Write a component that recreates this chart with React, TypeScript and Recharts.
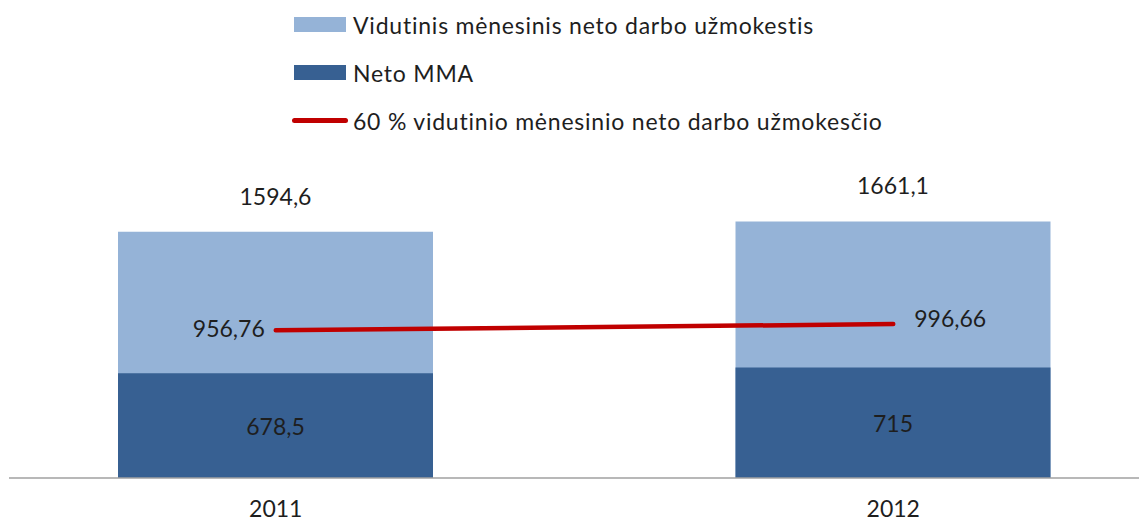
import { ComposedChart, Bar, Line, XAxis, YAxis, Legend, LabelList } from 'recharts'

const years = ['2011', '2012']
const avgNetWage = [1594.6, 1661.1]
const netMinWage = [678.5, 715]
const sixtyPercentOfAvg = [956.76, 996.66]
const seriesNames = [
  'Vidutinis mėnesinis neto darbo užmokestis',
  'Neto MMA',
  '60 % vidutinio mėnesinio neto darbo užmokesčio',
]

const LIGHT = '#95b3d7'
const DARK = '#376092'
const RED = '#c00000'
const TEXT = '#1e1e1e'
const FONT = 'Lato, "Open Sans", sans-serif'
const FONT_SIZE = 23

const data = years.map((year, i) => ({
  year,
  avg: avgNetWage[i],
  mma: netMinWage[i],
  pct: sixtyPercentOfAvg[i],
}))

const fmt = (v: number | string) => String(v).replace('.', ',')

function renderLegend() {
  const icons = [
    <div style={{ position: 'absolute', left: 2, top: -7.5, width: 52, height: 15, background: LIGHT }} />,
    <div style={{ position: 'absolute', left: 2, top: -7.5, width: 52, height: 15, background: DARK }} />,
    <div style={{ position: 'absolute', left: 0, top: -2.5, width: 56, height: 5, borderRadius: 3, background: RED }} />,
  ]
  return (
    <div style={{ position: 'relative', width: 700, height: 140 }}>
      {seriesNames.map((name, i) => (
        <div key={name} style={{ position: 'absolute', left: 0, top: 24.5 + 48 * i, width: 700 }}>
          {icons[i]}
          <span
            style={{
              position: 'absolute',
              left: 61,
              top: -15,
              lineHeight: '30px',
              fontSize: FONT_SIZE,
              letterSpacing: 0.78,
              color: TEXT,
              whiteSpace: 'nowrap',
            }}
          >
            {name}
          </span>
        </div>
      ))}
    </div>
  )
}

const renderTick = ({ x, y, payload }: any) => (
  <text x={x} y={y + 31} textAnchor="middle" fill={TEXT} fontSize={FONT_SIZE} fontFamily={FONT}>
    {payload.value}
  </text>
)

const topLabel = (p: any) => (
  <text x={p.x + p.width / 2} y={p.y - 27} textAnchor="middle" fill={TEXT} fontSize={FONT_SIZE} fontFamily={FONT}>
    {fmt(p.value)}
  </text>
)

const centerLabel = (p: any) => (
  <text x={p.x + p.width / 2} y={p.y + p.height / 2 + 9} textAnchor="middle" fill={TEXT} fontSize={FONT_SIZE} fontFamily={FONT}>
    {fmt(p.value)}
  </text>
)

const lineLabel = (p: any) => {
  const first = p.index === 0
  return (
    <text
      x={first ? p.x - 11 : p.x + 21}
      y={first ? p.y + 7 : p.y + 3}
      textAnchor={first ? 'end' : 'start'}
      fill={TEXT}
      fontSize={FONT_SIZE}
      fontFamily={FONT}
    >
      {fmt(p.value)}
    </text>
  )
}

export default function App() {
  return (
    <div
      style={{
        position: 'absolute',
        left: 0,
        top: 0,
        width: 1139,
        height: 522,
        background: '#fff',
        overflow: 'hidden',
        fontFamily: FONT,
      }}
    >
      <div style={{ position: 'absolute', left: 9, top: 0, width: 1130, height: 522, overflow: 'hidden' }}>
        <div style={{ position: 'absolute', left: -42, top: 0 }}>
          <ComposedChart width={1235} height={522} data={data} margin={{ top: 200, right: 0, bottom: 14, left: 0 }}>
            <XAxis
              xAxisId="back"
              dataKey="year"
              height={30}
              tickLine={false}
              axisLine={{ stroke: '#a0a0a0', strokeWidth: 1.5 }}
              tick={renderTick}
            />
            <XAxis xAxisId="front" dataKey="year" hide />
            <YAxis hide domain={[0, 1800]} />
            <Legend
              layout="vertical"
              align="center"
              verticalAlign="middle"
              content={renderLegend}
              wrapperStyle={{ left: 325, top: 0, width: 700, height: 140 }}
            />
            <Bar xAxisId="back" dataKey="avg" name={seriesNames[0]} fill={LIGHT} barSize={315} isAnimationActive={false}>
              <LabelList dataKey="avg" content={topLabel} />
            </Bar>
            <Bar xAxisId="front" dataKey="mma" name={seriesNames[1]} fill={DARK} barSize={315} isAnimationActive={false}>
              <LabelList dataKey="mma" content={centerLabel} />
            </Bar>
            <Line
              xAxisId="back"
              dataKey="pct"
              name={seriesNames[2]}
              stroke={RED}
              strokeWidth={4.5}
              strokeLinecap="round"
              dot={false}
              activeDot={false}
              isAnimationActive={false}
            >
              <LabelList dataKey="pct" content={lineLabel} />
            </Line>
          </ComposedChart>
        </div>
      </div>
    </div>
  )
}
